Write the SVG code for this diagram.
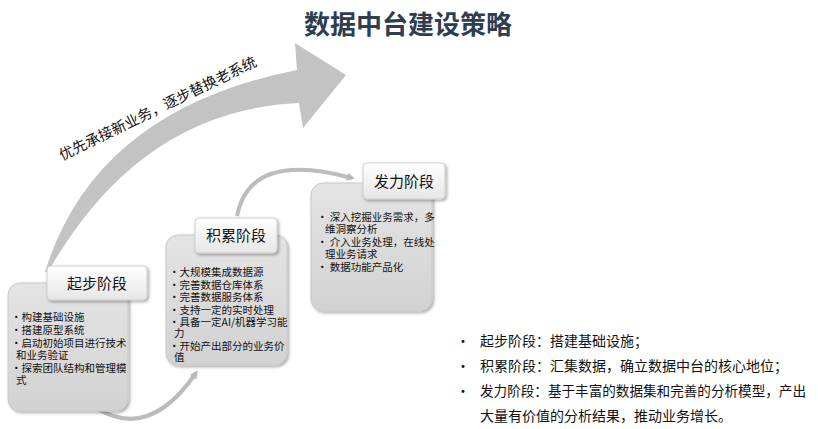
<svg xmlns="http://www.w3.org/2000/svg" width="818" height="429" viewBox="0 0 818 429">
<defs>
<linearGradient id="gb" x1="0" y1="0" x2="0" y2="1"><stop offset="0" stop-color="#e4e4e4"/><stop offset="1" stop-color="#d2d2d2"/></linearGradient>
<linearGradient id="gl" x1="0" y1="0" x2="0" y2="1"><stop offset="0" stop-color="#ffffff"/><stop offset="1" stop-color="#e6e6e6"/></linearGradient>
<filter id="sh" x="-10%" y="-10%" width="130%" height="130%"><feDropShadow dx="1.5" dy="1.5" stdDeviation="1.5" flood-color="#000" flood-opacity="0.35"/></filter>
<marker id="ah" markerWidth="8" markerHeight="8" refX="5" refY="4" orient="auto" markerUnits="userSpaceOnUse"><path d="M0,0 L8,4 L0,8 z" fill="#b8b8b8"/></marker>
<style>
.box{fill:url(#gb);stroke:#c8c8c8;stroke-width:1;filter:url(#sh)}
.lab{fill:url(#gl);stroke:#cfcfcf;stroke-width:1;filter:url(#sh)}
.lt{font-family:"Noto Sans CJK SC",sans-serif;font-size:15px;fill:#111;text-anchor:middle}
.bt{font-family:"Noto Sans CJK SC",sans-serif;font-size:10.5px;fill:#111}
.rt{font-family:"Noto Sans CJK SC",sans-serif;font-size:14px;fill:#111}
.con{fill:none;stroke:#bcbcbc;stroke-width:4}
</style>
</defs>
<rect width="818" height="429" fill="#fff"/>
<text x="408" y="34" font-family="Noto Sans CJK SC,sans-serif" font-size="26" font-weight="bold" fill="#2e3d4f" text-anchor="middle">数据中台建设策略</text>
<g id="bigarrow">
<path d="M45,272 Q95,110 297,70 L295,43 L346,75 L303,128 L299,103 Q140,110 48,272 Z" fill="#c3c3c3"/>
<text transform="translate(160,113) rotate(-26)" font-family="Noto Sans CJK SC,sans-serif" font-size="14.5" fill="#111" text-anchor="middle">优先承接新业务，逐步替换老系统</text>
</g>
<g id="connectors">
<path class="con" d="M98,409 Q150,440 196,373" marker-end="url(#ah)"/>
<path class="con" d="M237,216 Q250,150 352,178" marker-end="url(#ah)"/>
</g>
<g id="stage1">
<rect class="box" x="8" y="283" width="120" height="128" rx="12"/>
<rect class="lab" x="47" y="266" width="100" height="34" rx="4"/>
<text class="lt" x="97" y="289">起步阶段</text>
<text class="bt" x="11" y="321">•构建基础设施</text>
<text class="bt" x="11" y="334">•搭建原型系统</text>
<text class="bt" x="11" y="347">•启动初始项目进行技术</text>
<text class="bt" x="16" y="359">和业务验证</text>
<text class="bt" x="11" y="372">•探索团队结构和管理模</text>
<text class="bt" x="16" y="384">式</text>
</g>
<g id="stage2">
<rect class="box" x="166" y="235" width="121" height="130" rx="12"/>
<rect class="lab" x="195" y="218" width="82" height="35" rx="4"/>
<text class="lt" x="236" y="241">积累阶段</text>
<text class="bt" x="169" y="276">•大规模集成数据源</text>
<text class="bt" x="169" y="289">•完善数据仓库体系</text>
<text class="bt" x="169" y="301">•完善数据服务体系</text>
<text class="bt" x="169" y="314">•支持一定的实时处理</text>
<text class="bt" x="169" y="326">•具备一定AI/机器学习能</text>
<text class="bt" x="174" y="337">力</text>
<text class="bt" x="169" y="350">•开始产出部分的业务价</text>
<text class="bt" x="174" y="361">值</text>
</g>
<g id="stage3">
<rect class="box" x="311" y="183" width="121" height="128" rx="12"/>
<rect class="lab" x="363" y="163" width="82" height="36" rx="4"/>
<text class="lt" x="404" y="187">发力阶段</text>
<text class="bt" x="317" y="221">• 深入挖掘业务需求，多</text>
<text class="bt" x="325" y="233">维洞察分析</text>
<text class="bt" x="317" y="246">• 介入业务处理，在线处</text>
<text class="bt" x="325" y="258">理业务请求</text>
<text class="bt" x="317" y="271">• 数据功能产品化</text>
</g>
<g id="summary">
<text class="rt" x="456" y="346">•</text><text class="rt" x="480" y="346">起步阶段：搭建基础设施；</text>
<text class="rt" x="456" y="371">•</text><text class="rt" x="480" y="371">积累阶段：汇集数据，确立数据中台的核心地位；</text>
<text class="rt" x="456" y="396">•</text><text class="rt" x="480" y="396" textLength="326" lengthAdjust="spacingAndGlyphs">发力阶段：基于丰富的数据集和完善的分析模型，产出</text>
<text class="rt" x="480" y="421">大量有价值的分析结果，推动业务增长。</text>
</g>
</svg>
